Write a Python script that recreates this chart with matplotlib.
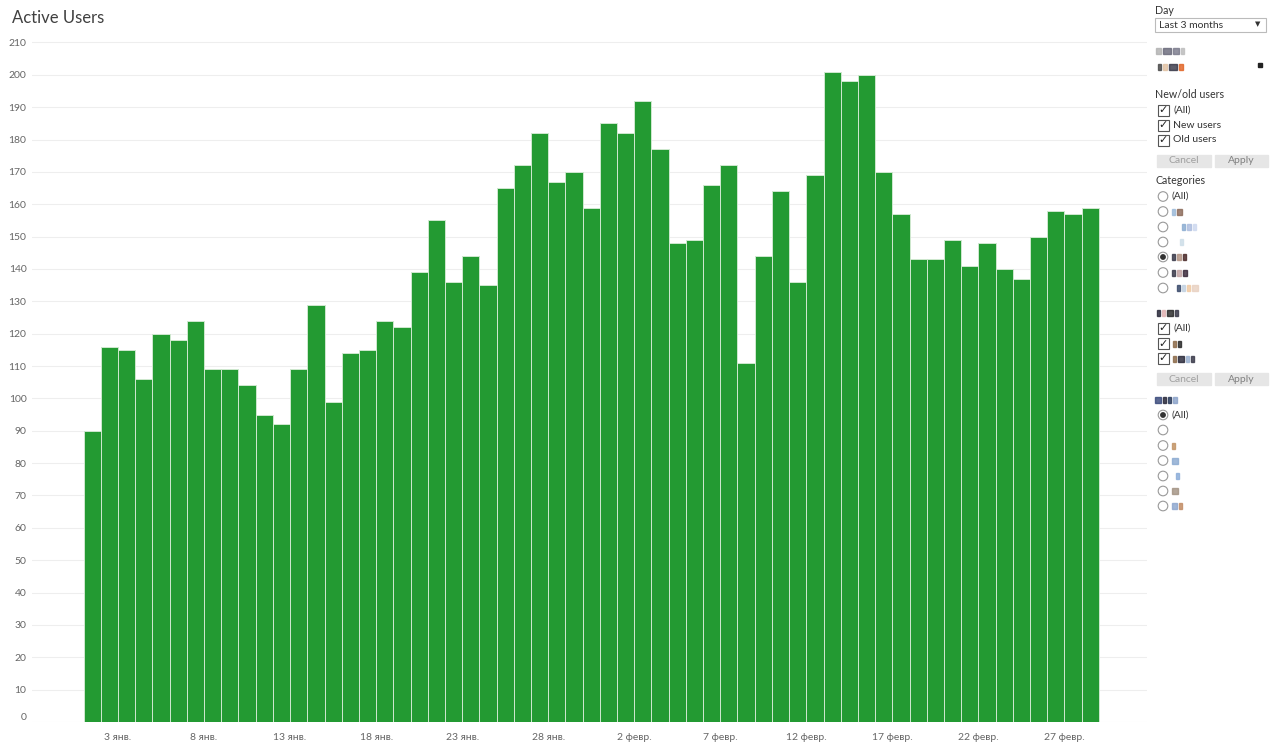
import numpy as np
import pandas as pd
import matplotlib
matplotlib.use("Agg")
import matplotlib.pyplot as plt
import matplotlib.dates as mdates
from matplotlib.patches import Rectangle, Circle

plt.rcParams['font.family'] = ['Lato', 'DejaVu Sans']

# daily active users, 1 Jan - 28 Feb
days = pd.date_range('2020-01-01', '2020-02-28', freq='D')
users = [90, 116, 115, 106, 120, 118, 124, 109, 109, 104,
         95, 92, 109, 129, 99, 114, 115, 124, 122, 139,
         155, 136, 144, 135, 165, 172, 182, 167, 170, 159,
         185, 182, 192, 177, 148, 149, 166, 172, 111, 144,
         164, 136, 169, 201, 198, 200, 170, 157, 143, 143,
         149, 141, 148, 140, 137, 150, 158, 157, 159]

tick_days = ['2020-01-03', '2020-01-08', '2020-01-13', '2020-01-18', '2020-01-23',
             '2020-01-28', '2020-02-02', '2020-02-07', '2020-02-12', '2020-02-17',
             '2020-02-22', '2020-02-27']
tick_labels = ['3 янв.', '8 янв.', '13 янв.', '18 янв.', '23 янв.', '28 янв.',
               '2 февр.', '7 февр.', '12 февр.', '17 февр.', '22 февр.', '27 февр.']

green = '#239a32'
grey_txt = '#666666'

fig = plt.figure(figsize=(12.8, 7.49), dpi=100)
ax = fig.add_axes([32/1280, 27/749, (1147-32)/1280, (722-36)/749])

ax.bar(days, users, width=1.0, align='edge', color=green,
       edgecolor='#cfe8cf', linewidth=0.7, zorder=2)

start = pd.Timestamp('2020-01-01')
ax.set_xlim(start - pd.Timedelta(days=3.0), start + pd.Timedelta(days=61.8))
ax.set_ylim(0, 212)
ax.set_yticks(np.arange(0, 211, 10))
ax.yaxis.grid(True, color='#eeeeee', linewidth=0.8, zorder=0)
ax.set_xticks(pd.to_datetime(tick_days))
ax.set_xticklabels(tick_labels)
ax.tick_params(axis='both', length=0, labelsize=7.5, colors=grey_txt)
ax.tick_params(axis='y', pad=4)
ax.tick_params(axis='x', pad=8)
for s in ax.spines.values():
    s.set_visible(False)
lab0 = ax.get_yticklabels()[0]
lab0.set_va('bottom')

fig.text(12/1280, 1 - 18/749, 'Active Users', fontsize=12, color='#404040',
         va='center', ha='left')

# ---- side panel with filters (pixel coordinates) ----
ui = fig.add_axes([0, 0, 1, 1], zorder=5)
ui.set_xlim(0, 1280)
ui.set_ylim(749, 0)
ui.axis('off')
ui.patch.set_alpha(0)

dark = '#333333'

def label(x, y, s, color=dark, size=7.5, **kw):
    ui.text(x, y, s, fontsize=size, color=color, va='center', ha='left', **kw)

def checkbox(y, s=None):
    ui.add_patch(Rectangle((1158, y - 5.5), 11, 11, fill=False, ec='#555555', lw=0.8))
    ui.text(1163.5, y, '✓', fontsize=8, color='#222222', ha='center', va='center',
            family='DejaVu Sans')
    if s:
        label(1173, y, s)

def radio(y, s=None, on=False):
    ui.add_patch(Circle((1163, y), 4.8, fill=False, ec='#999999', lw=0.8))
    if on:
        ui.add_patch(Circle((1163, y), 2.2, color='#333333'))
    if s:
        label(1172, y, s)

def buttons(y):
    ui.add_patch(Rectangle((1157, y - 6), 54, 12, color='#e6e6e6'))
    ui.add_patch(Rectangle((1215, y - 6), 53, 12, color='#e6e6e6'))
    ui.text(1184, y, 'Cancel', fontsize=7.5, color='#a0a0a0', ha='center', va='center')
    ui.text(1241, y, 'Apply', fontsize=7.5, color='#808080', ha='center', va='center')

def blur(x, y, widths, colors):
    for w, c in zip(widths, colors):
        ui.add_patch(Rectangle((x, y - 3), w, 6, color=c, alpha=0.8))
        x += w + 2

label(1155, 10, 'Day', size=7.7)
ui.add_patch(Rectangle((1155, 18), 111, 14, fill=False, ec='#bbbbbb', lw=0.8))
label(1159, 25.5, 'Last 3 months')
ui.text(1258, 24.5, '▼', fontsize=5, color='#333333', ha='center', va='center',
        family='DejaVu Sans')
blur(1156, 51, [5, 8, 6, 3], ['#b0b0b0', '#666677', '#777788', '#bbbbbb'])
blur(1158, 67, [3, 4, 8, 4], ['#444444', '#e0c0a0', '#333344', '#e06020'])
ui.add_patch(Rectangle((1258, 63), 4, 4, color='#222222'))

label(1155, 95, 'New/old users', size=7.7)
checkbox(110, '(All)')
checkbox(125, 'New users')
checkbox(140, 'Old users')
buttons(160.5)

label(1155, 181, 'Categories', size=7.7)
radio(196.5, '(All)')
radio(211.5)
blur(1172, 211.5, [3, 5], ['#99b8d8', '#886655'])
radio(227)
blur(1182, 227, [3, 4, 3], ['#88aad0', '#aabbdd', '#ccd8ee'])
radio(242)
blur(1180, 242, [3], ['#ccdde8'])
radio(257, on=True)
blur(1172, 257, [3, 4, 3], ['#333344', '#b09080', '#442222'])
radio(272.5)
blur(1172, 272.5, [3, 4, 4], ['#333344', '#c0a0a0', '#332233'])
radio(288)
blur(1177, 288, [3, 3, 3, 6], ['#334466', '#c0d0e0', '#f0c8a0', '#e8d0c0'])

blur(1157, 313, [3, 3, 6, 3], ['#222233', '#e0b0b0', '#222222', '#333344'])
checkbox(328, '(All)')
checkbox(343.5)
blur(1173, 343.5, [3, 3], ['#886644', '#222222'])
checkbox(358.5)
blur(1173, 358.5, [3, 6, 3, 3], ['#886644', '#222233', '#99b0d0', '#333344'])
buttons(379)

blur(1155, 399.5, [6, 3, 3, 4], ['#334477', '#222233', '#223355', '#88a0c8'])
radio(415, '(All)', on=True)
radio(430)
radio(445.5)
blur(1172, 445.5, [3], ['#c09060'])
radio(460.5)
blur(1172, 460.5, [6], ['#88a8d0'])
radio(476)
blur(1176, 476, [3], ['#88aad8'])
radio(491)
blur(1172, 491, [6], ['#a09080'])
radio(506)
blur(1172, 506, [5, 3], ['#8aa4cc', '#c08860'])

fig.savefig('out.png', dpi=100)
